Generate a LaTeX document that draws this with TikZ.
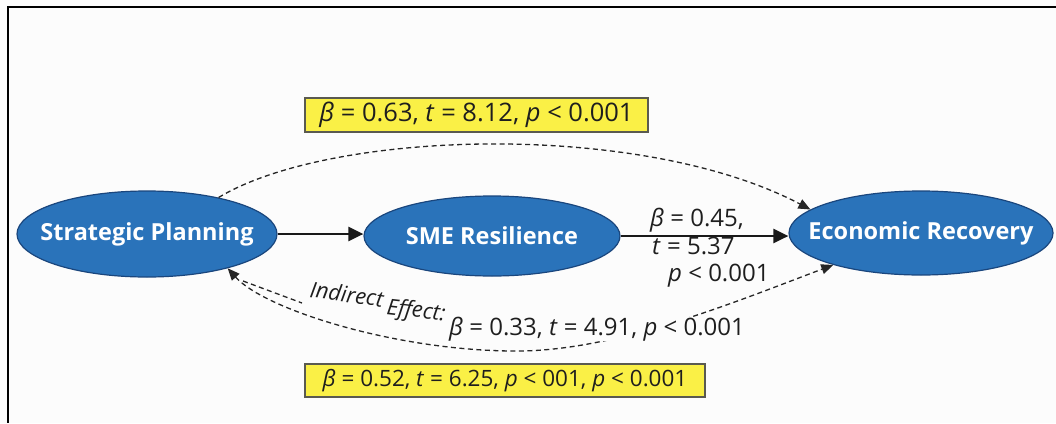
\documentclass[tikz,border=0pt]{standalone}
\usepackage{fontspec}
\setmainfont{Open Sans}
\usetikzlibrary{arrows.meta,shapes.geometric}
\definecolor{nodeblue}{RGB}{42,115,186}
\definecolor{nodeedge}{RGB}{26,70,125}
\definecolor{boxyellow}{RGB}{250,240,70}
\definecolor{boxedge}{RGB}{90,90,80}
\definecolor{txtdark}{RGB}{30,30,30}
\definecolor{bg}{RGB}{252,252,252}
\begin{document}
\begin{tikzpicture}[x=1pt,y=-1pt,
  ell/.style={ellipse, fill=nodeblue, draw=nodeedge, line width=1.2pt, inner sep=0pt},
  ntxt/.style={text=white, font=\fontsize{23.5}{27}\selectfont\bfseries, inner sep=0pt},
  lbl/.style={text=txtdark, font=\fontsize{24}{28}\selectfont, inner sep=0pt},
  ilbl/.style={text=txtdark, font=\fontsize{22}{26}\selectfont\itshape, inner sep=0pt},
  ybox/.style={rectangle, fill=boxyellow, draw=boxedge, line width=1.2pt, inner sep=0pt},
  solidarrow/.style={line width=2.6pt, draw=black!90, -{Triangle[length=15pt,width=14pt]}},
  dashline/.style={line width=1.3pt, draw=black!85, dash pattern=on 5pt off 3.5pt},
  dasharrow/.style={dashline, -{Triangle[length=12pt,width=10pt]}},
]
\useasboundingbox (0,0) rectangle (1056,423);
\fill[bg] (0,0) rectangle (1056,423);
\draw[line width=2pt] (1056,7) -- (8,7) -- (8,423);

% nodes
\node[ell, minimum width=260pt, minimum height=86pt, label={[ntxt]center:Strategic Planning}] (sp) at (147,234) {};
\node[ell, minimum width=256pt, minimum height=80pt, label={[ntxt]center:SME Resilience}] (sme) at (492,236) {};
\node[ell, minimum width=264pt, minimum height=84pt, label={[ntxt]center:Economic Recovery}] (er) at (921,233) {};

% solid arrows
\draw[solidarrow] (sp.east) -- (sp.east -| sme.west);
\draw[solidarrow] (sme.east) -- (sme.east -| er.west);

% top dashed curve
\draw[dasharrow] (sp.27) .. controls (330,130) and (640,120) .. (er.168);

% bottom dashed curve (double headed)
\draw[dashline, {Triangle[length=12pt,width=10pt]}-{Triangle[length=12pt,width=10pt]}]
  (sp.-23) .. controls (265,310) and (400,352) .. (520,351)
  .. controls (620,350) and (740,300) .. (er.-160);
\coordinate (fork) at (243,281);
\coordinate (branchend) at (302,303);
\draw[dashline] (fork) -- (branchend);

% boxes
\node[ybox, minimum width=343pt, minimum height=34pt] (topbox) at (476.5,115) {};
\node[lbl, font=\fontsize{25.5}{29}\selectfont] (toptxt) at (topbox.center) {\textit{β} = 0.63, \textit{t} = 8.12, \textit{p} < 0.001};
\node[ybox, minimum width=400pt, minimum height=33pt] (botbox) at (505,380.5) {};
\node[lbl, font=\fontsize{22.5}{27}\selectfont] (bottxt) at (botbox.center) {\textit{β} = 0.52, \textit{t} = 6.25, \textit{p} < 001, \textit{p} < 0.001};

% direct path labels
\node[lbl, anchor=base west] (l1) at (650,226) {\textit{β} = 0.45,};
\node[lbl, anchor=base west] (l2) at (652,254) {\textit{t} = 5.37};
\node[lbl, anchor=base west] (l3) at (668,281) {\textit{p} < 0.001};

% indirect effect label
\node[ilbl, anchor=base west, rotate=-8, fill=bg] (ind1) at (309,297) {Indirect};
\node[ilbl, anchor=base west, rotate=-6.5, fill=bg] (ind2) at (386,314) {Effect:};
\node[lbl, anchor=base west, fill=bg] (ind3) at (449,335) {\textit{β} = 0.33, \textit{t} = 4.91, \textit{p} < 0.001};
\end{tikzpicture}
\end{document}
